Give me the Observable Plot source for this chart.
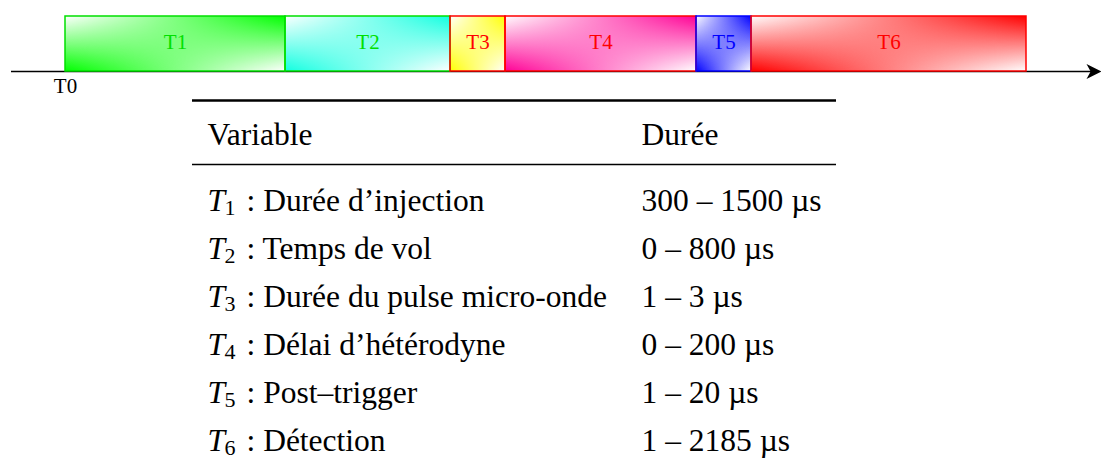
<!DOCTYPE html>
<html>
<head>
<meta charset="utf-8">
<script src="https://cdn.jsdelivr.net/npm/d3@7"></script>
<script src="https://cdn.jsdelivr.net/npm/@observablehq/plot@0.6"></script>
<style>
  html, body { margin: 0; padding: 0; background: #fff; }
  #chart svg { display: block; }
</style>
</head>
<body>
<div id="chart"></div>
<script>
// ---- Timeline data (relative durations) ----
const segmentNames = ["T1", "T2", "T3", "T4", "T5", "T6"];
const segmentLengths = [220, 165, 55, 191, 55, 275];
const segmentFills = ["#00ff00", "#10ffe0", "#ffff00", "#ff0095", "#0000ff", "#ff0000"];
const segmentInks = ["#00e000", "#00e000", "#ff0000", "#ff0000", "#0000ff", "#ff0000"];
const originLabel = "T0";
const axisExtent = [-54, 1036];

// ---- Table data ----
const tableHeaders = ["Variable", "Durée"];
const rowSymbols = ["T", "T", "T", "T", "T", "T"];
const rowIndices = ["1", "2", "3", "4", "5", "6"];
const rowDescriptions = [
  "Durée d’injection",
  "Temps de vol",
  "Durée du pulse micro-onde",
  "Délai d’hétérodyne",
  "Post–trigger",
  "Détection"
];
const rowRanges = ["300 – 1500 µs", "0 – 800 µs", "1 – 3 µs", "0 – 200 µs", "1 – 20 µs", "1 – 2185 µs"];

// ---- Build tables ----
let t = 0;
const segments = segmentNames.map((name, i) => {
  const s = {name, start: t, end: t + segmentLengths[i], fill: segmentFills[i], ink: segmentInks[i]};
  t += segmentLengths[i];
  return s;
});
const rows = segmentNames.map((name, i) => ({
  name, sym: rowSymbols[i], sub: rowIndices[i], desc: rowDescriptions[i], range: rowRanges[i]
}));

const serif = "Liberation Serif, Times New Roman, serif";

// stealth-like arrow head, origin at the tip
const stealth = {
  draw(ctx, size) {
    const r = Math.sqrt(size / Math.PI);
    ctx.moveTo(0, 0);
    ctx.lineTo(-2 * r, -r);
    ctx.lineTo(-1.45 * r, 0);
    ctx.lineTo(-2 * r, r);
    ctx.closePath();
  }
};

const timeline = Plot.plot({
  width: 1101,
  height: 95,
  marginLeft: 0,
  marginRight: 0,
  marginTop: 16,
  marginBottom: 24,
  style: {fontFamily: serif, background: "white", overflow: "visible"},
  x: {domain: [-65, 1036], axis: null},
  y: {domain: [0, 1], axis: null},
  color: {type: "identity"},
  marks: [
    Plot.ruleY([0], {x1: axisExtent[0], x2: axisExtent[1] - 6, stroke: "black", strokeWidth: 1.4}),
    Plot.dot([axisExtent[1]], {x: d => d, y: 0, symbol: stealth, r: 7.5, fill: "black", stroke: "none"}),
    Plot.rect(segments, {x1: "start", x2: "end", y1: 0, y2: 1, fill: d => `url(#gA-${d.name})`}),
    Plot.rect(segments, {x1: "start", x2: "end", y1: 0, y2: 1, fill: d => `url(#gB-${d.name})`}),
    Plot.rect(segments, {x1: "start", x2: "end", y1: 0, y2: 1, fill: "none", stroke: "ink", strokeWidth: 1.5}),
    Plot.text(segments, {x: d => (d.start + d.end) / 2, y: 0.5, dy: -2, text: "name", fill: "ink", fontSize: 21, fontFamily: serif}),
    Plot.text([originLabel], {x: 0, y: 0, dy: 15, text: d => d, fill: "black", fontSize: 21, fontFamily: serif})
  ]
});

// gradients: bilinear white/colour blend (white at top-left and bottom-right corners)
const defs = d3.select(timeline).insert("defs", ":first-child");
const vg = defs.append("linearGradient").attr("id", "vgrad").attr("x1", 0).attr("y1", 0).attr("x2", 0).attr("y2", 1);
vg.append("stop").attr("offset", 0).attr("stop-color", "black");
vg.append("stop").attr("offset", 1).attr("stop-color", "white");
defs.append("mask").attr("id", "vmask").attr("maskContentUnits", "objectBoundingBox")
  .append("rect").attr("x", 0).attr("y", 0).attr("width", 1).attr("height", 1).attr("fill", "url(#vgrad)");
segments.forEach(s => {
  const a = defs.append("linearGradient").attr("id", `gA-${s.name}`).attr("x1", 0).attr("y1", 0).attr("x2", 1).attr("y2", 0);
  a.append("stop").attr("offset", 0).attr("stop-color", "white");
  a.append("stop").attr("offset", 1).attr("stop-color", s.fill);
  const b = defs.append("linearGradient").attr("id", `gB-${s.name}`).attr("x1", 0).attr("y1", 0).attr("x2", 1).attr("y2", 0);
  b.append("stop").attr("offset", 0).attr("stop-color", s.fill);
  b.append("stop").attr("offset", 1).attr("stop-color", "white");
});
// mask the second rect layer (the bottom half of the bilinear blend)
d3.select(timeline).selectAll("rect")
  .filter(function () { return (this.getAttribute("fill") || "").startsWith("url(#gB-"); })
  .attr("mask", "url(#vmask)");

const fs = 31.5;
const table = Plot.plot({
  width: 1101,
  height: 369,
  marginLeft: 192,
  marginRight: 265,
  marginTop: 0,
  marginBottom: 0,
  style: {fontFamily: serif, background: "white"},
  x: {type: "point", domain: tableHeaders, range: [207, 641], padding: 0, axis: null},
  y: {type: "point", domain: ["head", ...segmentNames], range: [56.8, 56.8 + 6 * 48], padding: 0, axis: null},
  marks: [
    Plot.ruleY(["head"], {dy: -52, stroke: "black", strokeWidth: 2.4}),
    Plot.ruleY(["head"], {dy: 12, stroke: "black", strokeWidth: 1.4}),
    Plot.text(tableHeaders, {x: d => d, y: () => "head", dy: -18, text: d => d, textAnchor: "start", fontSize: fs, fontFamily: serif, fill: "black"}),
    Plot.text(rows, {x: () => tableHeaders[0], y: "name", text: "sym", textAnchor: "start", fontStyle: "italic", fontSize: fs, fontFamily: serif, fill: "black"}),
    Plot.text(rows, {x: () => tableHeaders[0], y: "name", text: "sub", dx: 17, dy: 7, textAnchor: "start", fontSize: 22, fontFamily: serif, fill: "black"}),
    Plot.text(rows, {x: () => tableHeaders[0], y: "name", text: d => ": " + d.desc, dx: 39, textAnchor: "start", fontSize: fs, fontFamily: serif, fill: "black"}),
    Plot.text(rows, {x: () => tableHeaders[1], y: "name", text: "range", textAnchor: "start", fontSize: fs, fontFamily: serif, fill: "black"})
  ]
});

const root = document.getElementById("chart");
root.appendChild(timeline);
root.appendChild(table);
</script>
</body>
</html>
